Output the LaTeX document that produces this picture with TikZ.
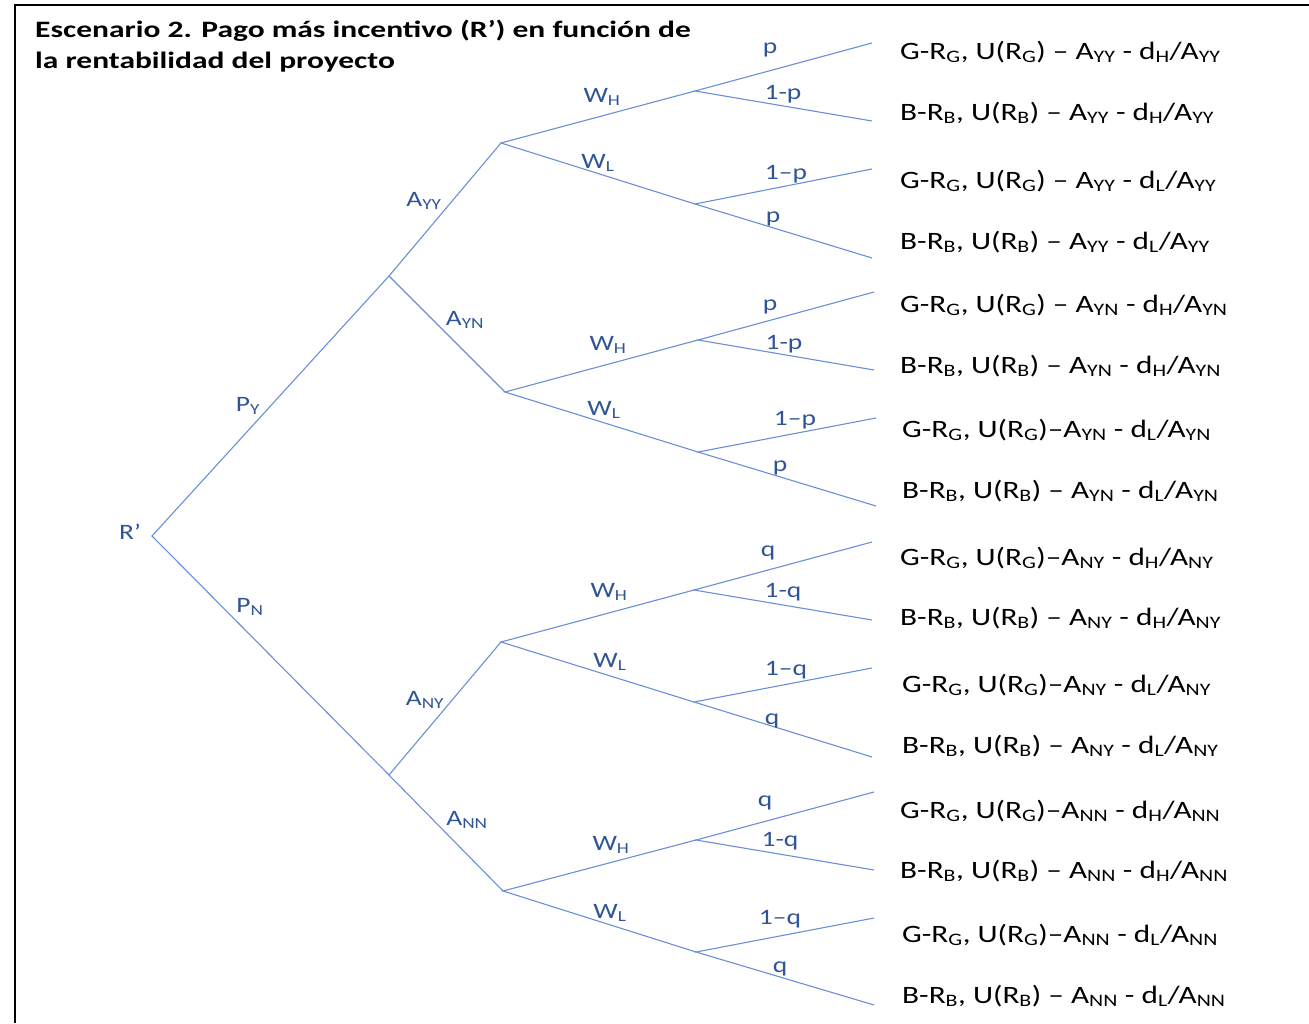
\documentclass[tikz,border=0pt]{standalone}
\usepackage{fontspec}
\setmainfont[FakeStretch=1.25]{Carlito}
\newfontfamily\titlefont[FakeStretch=1.34]{Carlito}
\definecolor{branch}{HTML}{6A8FD6}
\definecolor{lbl}{HTML}{2F5597}
\newcommand\sbs[1]{\textsubscript{#1}}
\begin{document}
\begin{tikzpicture}[x=1pt,y=-1pt,
  edge/.style={draw=branch,line width=1.1pt},
  prob/.style={text=lbl,inner sep=0pt,font=\fontsize{22}{24}\selectfont},
  payoff/.style={anchor=base west,inner sep=0pt,font=\fontsize{25}{28}\selectfont},
  frameline/.style={draw=black,line width=2.6pt}]
\useasboundingbox (0,0) rectangle (1309,1023);
% frame
\draw[frameline] (15,1023) -- (15,5) -- (1309,5);
% title
\node[anchor=base west,inner sep=0pt,align=left,font=\titlefont\bfseries\fontsize{23.5}{31}\selectfont] (title) at (35,68)
  {Escenario 2. Pago más incentivo (R’) en función de\\la rentabilidad del proyecto};

% decision points
\coordinate (r) at (152,536);
\coordinate (y) at (389,276);   \coordinate (n) at (389,775);
\coordinate (yy) at (501,143);  \coordinate (yn) at (505,392);
\coordinate (ny) at (501,642);  \coordinate (nn) at (503,891);
\coordinate (yyh) at (695,91);  \coordinate (yyl) at (695,204);
\coordinate (ynh) at (698,340); \coordinate (ynl) at (698,452);
\coordinate (nyh) at (694,590); \coordinate (nyl) at (694,702);
\coordinate (nnh) at (696,840); \coordinate (nnl) at (696,952);
% leaf ends
\coordinate (e1) at (872,43);   \coordinate (e2) at (872,121);
\coordinate (e3) at (872,169);  \coordinate (e4) at (872,258);
\coordinate (e5) at (874,292);  \coordinate (e6) at (874,370);
\coordinate (e7) at (876,418);  \coordinate (e8) at (876,506);
\coordinate (e9) at (872,542);  \coordinate (e10) at (872,620);
\coordinate (e11) at (872,668); \coordinate (e12) at (872,757);
\coordinate (e13) at (874,792); \coordinate (e14) at (874,870);
\coordinate (e15) at (874,918); \coordinate (e16) at (874,1005);

% branches
\draw[edge] (y) -- (r) -- (n);
\draw[edge] (yy) -- (y) -- (yn);
\draw[edge] (ny) -- (n) -- (nn);
\draw[edge] (yyh) -- (yy) -- (yyl);
\draw[edge] (ynh) -- (yn) -- (ynl);
\draw[edge] (nyh) -- (ny) -- (nyl);
\draw[edge] (nnh) -- (nn) -- (nnl);
\draw[edge] (e1) -- (yyh) -- (e2);
\draw[edge] (e3) -- (yyl) -- (e4);
\draw[edge] (e5) -- (ynh) -- (e6);
\draw[edge] (e7) -- (ynl) -- (e8);
\draw[edge] (e9) -- (nyh) -- (e10);
\draw[edge] (e11) -- (nyl) -- (e12);
\draw[edge] (e13) -- (nnh) -- (e14);
\draw[edge] (e15) -- (nnl) -- (e16);

% branch labels
\node[prob] (lr) at (130,532) {R’};
\node[prob] (lpy) at (248,406) {P\sbs{Y}};
\node[prob] (lpn) at (250,607) {P\sbs{N}};
\node[prob] (lyy) at (424,201) {A\sbs{YY}};
\node[prob] (lyn) at (465,320) {A\sbs{YN}};
\node[prob] (lny) at (425,700) {A\sbs{NY}};
\node[prob] (lnn) at (467,820) {A\sbs{NN}};

\node[prob] (l1) at (602,97) {W\sbs{H}};
\node[prob] (l2) at (598,163) {W\sbs{L}};
\node[prob] (l3) at (770,50) {p};
\node[prob] (l4) at (783,94) {1-p};
\node[prob] (l5) at (786,174) {1–p};
\node[prob] (l6) at (773,219) {p};

\node[prob] (l7) at (608,345) {W\sbs{H}};
\node[prob] (l8) at (604,410) {W\sbs{L}};
\node[prob] (l9) at (770,307) {p};
\node[prob] (l10) at (784,344) {1-p};
\node[prob] (l11) at (795,420) {1–p};
\node[prob] (l12) at (780,468) {p};

\node[prob] (l13) at (609,592) {W\sbs{H}};
\node[prob] (l14) at (610,662) {W\sbs{L}};
\node[prob] (l15) at (768,553) {q};
\node[prob] (l16) at (783,592) {1-q};
\node[prob] (l17) at (786,670) {1–q};
\node[prob] (l18) at (772,721) {q};

\node[prob] (l19) at (611,845) {W\sbs{H}};
\node[prob] (l20) at (610,913) {W\sbs{L}};
\node[prob] (l21) at (765,803) {q};
\node[prob] (l22) at (780,841) {1-q};
\node[prob] (l23) at (780,919) {1–q};
\node[prob] (l24) at (780,969) {q};

% payoffs
\node[payoff] (p1) at (900,59) {G-R\sbs{G},\ U(R\sbs{G}) – A\sbs{YY} - d\sbs{H}/A\sbs{YY}};
\node[payoff] (p2) at (900,120) {B-R\sbs{B},\ U(R\sbs{B}) – A\sbs{YY} - d\sbs{H}/A\sbs{YY}};
\node[payoff] (p3) at (900,188) {G-R\sbs{G},\ U(R\sbs{G}) – A\sbs{YY} - d\sbs{L}/A\sbs{YY}};
\node[payoff] (p4) at (900,249) {B-R\sbs{B},\ U(R\sbs{B}) – A\sbs{YY} - d\sbs{L}/A\sbs{YY}};
\node[payoff] (p5) at (900,312) {G-R\sbs{G},\ U(R\sbs{G}) – A\sbs{YN} - d\sbs{H}/A\sbs{YN}};
\node[payoff] (p6) at (900,373) {B-R\sbs{B},\ U(R\sbs{B}) – A\sbs{YN} - d\sbs{H}/A\sbs{YN}};
\node[payoff] (p7) at (902,437) {G-R\sbs{G},\ U(R\sbs{G})–A\sbs{YN} - d\sbs{L}/A\sbs{YN}};
\node[payoff] (p8) at (902,498) {B-R\sbs{B},\ U(R\sbs{B}) – A\sbs{YN} - d\sbs{L}/A\sbs{YN}};
\node[payoff] (p9) at (900,565) {G-R\sbs{G},\ U(R\sbs{G})–A\sbs{NY} - d\sbs{H}/A\sbs{NY}};
\node[payoff] (p10) at (900,625) {B-R\sbs{B},\ U(R\sbs{B}) – A\sbs{NY} - d\sbs{H}/A\sbs{NY}};
\node[payoff] (p11) at (902,692) {G-R\sbs{G},\ U(R\sbs{G})–A\sbs{NY} - d\sbs{L}/A\sbs{NY}};
\node[payoff] (p12) at (902,753) {B-R\sbs{B},\ U(R\sbs{B}) – A\sbs{NY} - d\sbs{L}/A\sbs{NY}};
\node[payoff] (p13) at (900,818) {G-R\sbs{G},\ U(R\sbs{G})–A\sbs{NN} - d\sbs{H}/A\sbs{NN}};
\node[payoff] (p14) at (900,878) {B-R\sbs{B},\ U(R\sbs{B}) – A\sbs{NN} - d\sbs{H}/A\sbs{NN}};
\node[payoff] (p15) at (902,942) {G-R\sbs{G},\ U(R\sbs{G})–A\sbs{NN} - d\sbs{L}/A\sbs{NN}};
\node[payoff] (p16) at (902,1003) {B-R\sbs{B},\ U(R\sbs{B}) – A\sbs{NN} - d\sbs{L}/A\sbs{NN}};
\end{tikzpicture}
\end{document}
